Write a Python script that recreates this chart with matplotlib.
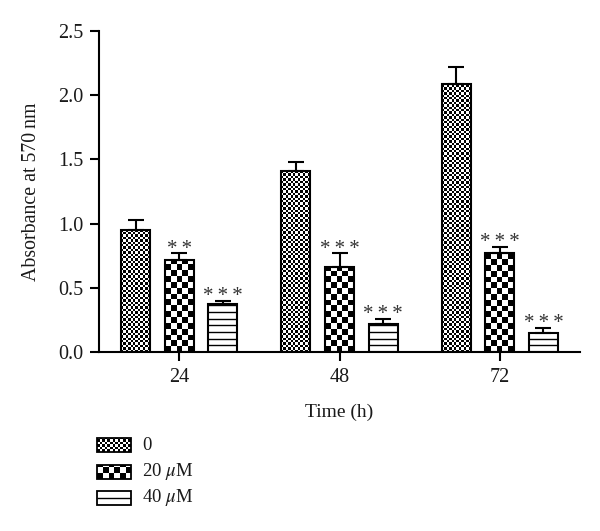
import numpy as np
import matplotlib.pyplot as plt
from matplotlib.patches import Rectangle

plt.rcParams['font.family'] = ['Liberation Serif', 'DejaVu Serif']
plt.rcParams['mathtext.fontset'] = 'stix'

# data
times = ["24", "48", "72"]
dose_labels = ["0", "20 $\\mu$M", "40 $\\mu$M"]
mean_0 = [0.95, 1.41, 2.09]
err_0 = [0.08, 0.07, 0.13]
mean_20 = [0.72, 0.66, 0.77]
err_20 = [0.05, 0.11, 0.05]
mean_40 = [0.37, 0.22, 0.145]
err_40 = [0.03, 0.04, 0.045]
stars_0 = ["", "", ""]
stars_20 = ["**", "***", "***"]
stars_40 = ["***", "***", "***"]

W, H = 600, 531
fig = plt.figure(figsize=(W / 100, H / 100), dpi=100)

# axes box in pixels (left, right, top, bottom)
L, R, T, B = 99, 580, 31, 352
ax = fig.add_axes([L / W, (H - B) / H, (R - L) / W, (B - T) / H])
xlim = (-0.5, 2.5)
ylim = (0, 2.5)
px_x = (R - L) / (xlim[1] - xlim[0])
px_y = (B - T) / (ylim[1] - ylim[0])


def fill_checker(a, patch, cell_px, sx, sy, z=2):
    x0, y0 = patch.get_x(), patch.get_y()
    w, h = patch.get_width(), patch.get_height()
    cw, ch = cell_px / sx, cell_px / sy
    nx = int(np.ceil(w / cw)) + 1
    ny = int(np.ceil(h / ch)) + 1
    grid = np.add.outer(np.arange(ny), np.arange(nx)) % 2
    im = a.imshow(grid, cmap='gray', origin='lower', vmin=0, vmax=1,
                  extent=[x0, x0 + nx * cw, y0, y0 + ny * ch],
                  interpolation='nearest', aspect='auto', zorder=z)
    im.set_clip_path(patch)


def fill_lines(a, patch, pitch_px, sy, z=2):
    x0, y0 = patch.get_x(), patch.get_y()
    w, h = patch.get_width(), patch.get_height()
    step = pitch_px / sy
    ys = np.arange(y0 + step, y0 + h, step)
    lc = a.hlines(ys, x0, x0 + w, colors='black', linewidth=1.0, zorder=z)
    lc.set_clip_path(patch)


x = np.arange(len(times))
offsets = [-0.272, 0.0, 0.272]
width = 0.18
series = [(mean_0, err_0, stars_0), (mean_20, err_20, stars_20), (mean_40, err_40, stars_40)]
fills = [("checker", 2.4), ("checker", 5.8), ("lines", 6.7)]

for (vals, errs, stars), off, (kind, size) in zip(series, offsets, fills):
    bars = ax.bar(x + off, vals, width, facecolor='none', edgecolor='black',
                  linewidth=1.5, zorder=3)
    ax.errorbar(x + off, vals, yerr=[np.zeros(len(errs)), errs], fmt='none',
                ecolor='black', elinewidth=1.5, capsize=5.5, capthick=1.5, zorder=3)
    for bar, v, e, s in zip(bars, vals, errs, stars):
        if kind == "checker":
            fill_checker(ax, bar, size, px_x, px_y)
        else:
            fill_lines(ax, bar, size, px_y)
        if s:
            ax.annotate("\u2009".join(s), (bar.get_x() + width / 2, v + e),
                        xytext=(0, -0.5), textcoords='offset points',
                        ha='center', va='baseline', fontsize=15, color='#333333')

ax.set_xlim(*xlim)
ax.set_ylim(*ylim)
ax.set_xticks(x)
ax.set_xticklabels(times)
ax.set_yticks([0, 0.5, 1.0, 1.5, 2.0, 2.5])
ax.set_yticklabels(["0.0", "0.5", "1.0", "1.5", "2.0", "2.5"])
ax.tick_params(axis='both', direction='out', length=6.5, width=1.5, labelsize=14.5,
               pad=5, labelcolor='#1a1a1a')
for side in ['top', 'right']:
    ax.spines[side].set_visible(False)
for side in ['left', 'bottom']:
    ax.spines[side].set_linewidth(1.5)
ax.set_ylabel("Absorbance at 570\u2009nm", fontsize=14.3, labelpad=12, color='#1a1a1a')
ax.set_xlabel("Time (h)", fontsize=14, labelpad=12, color='#1a1a1a')

# legend drawn in its own axes, in figure pixel units
lax = fig.add_axes([90 / W, 11 / H, 220 / W, 100 / H])
lax.set_xlim(90, 310)
lax.set_ylim(11, 111)
lax.axis('off')
rows_y = [86, 59, 33]
for lbl, (kind, size), yc in zip(dose_labels, fills, rows_y):
    rect = Rectangle((97, yc - 7), 34, 14, facecolor='none', edgecolor='black',
                     linewidth=1.3, zorder=3)
    lax.add_patch(rect)
    if kind == "checker":
        fill_checker(lax, rect, size if size > 3 else 2.6, 1, 1)
    else:
        fill_lines(lax, rect, 7, 1)
    lax.text(142, yc, lbl, va='center', ha='left', fontsize=13.5, color='#1a1a1a')
lax.set_xlim(90, 310)
lax.set_ylim(11, 111)

fig.savefig("out.png", dpi=100)
